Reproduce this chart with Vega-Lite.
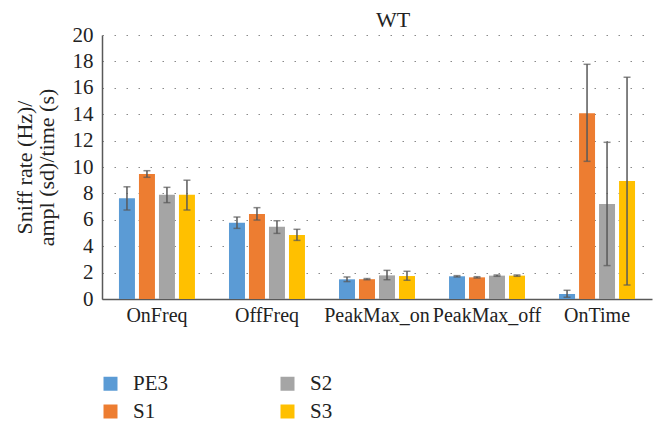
{
  "$schema": "https://vega.github.io/schema/vega-lite/v6.json",
  "width": 550,
  "height": 264,
  "autosize": {"type": "none"},
  "padding": {"left": 102, "top": 35, "right": 14, "bottom": 133},
  "background": "white",
  "title": {"text": "WT", "font": "Liberation Serif", "fontSize": 22, "fontWeight": "normal", "color": "#222", "anchor": "middle", "dx": 16, "offset": -8},
  "config": {
    "view": {"stroke": null},
    "font": "Liberation Serif",
    "axis": {"labelFont": "Liberation Serif", "titleFont": "Liberation Serif", "labelOverlap": false, "labelFontSize": 21, "titleFontSize": 22, "labelColor": "#222", "titleColor": "#222", "titleFontWeight": "normal"},
    "legend": {"labelFont": "Liberation Serif", "labelFontSize": 21, "labelColor": "#222"}
  },
  "data": {
    "values": [
      {"measure": "OnFreq", "group": "PE3", "mean": 7.63, "lo": 6.74, "hi": 8.5},
      {"measure": "OnFreq", "group": "S1", "mean": 9.47, "lo": 9.22, "hi": 9.72},
      {"measure": "OnFreq", "group": "S2", "mean": 7.9, "lo": 7.3, "hi": 8.46},
      {"measure": "OnFreq", "group": "S3", "mean": 7.9, "lo": 6.74, "hi": 9.0},
      {"measure": "OffFreq", "group": "PE3", "mean": 5.78, "lo": 5.35, "hi": 6.21},
      {"measure": "OffFreq", "group": "S1", "mean": 6.44, "lo": 5.98, "hi": 6.92},
      {"measure": "OffFreq", "group": "S2", "mean": 5.48, "lo": 4.97, "hi": 5.93},
      {"measure": "OffFreq", "group": "S3", "mean": 4.85, "lo": 4.44, "hi": 5.28},
      {"measure": "PeakMax_on", "group": "PE3", "mean": 1.49, "lo": 1.32, "hi": 1.67},
      {"measure": "PeakMax_on", "group": "S1", "mean": 1.5, "lo": 1.46, "hi": 1.55},
      {"measure": "PeakMax_on", "group": "S2", "mean": 1.79, "lo": 1.46, "hi": 2.17},
      {"measure": "PeakMax_on", "group": "S3", "mean": 1.74, "lo": 1.42, "hi": 2.1},
      {"measure": "PeakMax_off", "group": "PE3", "mean": 1.72, "lo": 1.67, "hi": 1.77},
      {"measure": "PeakMax_off", "group": "S1", "mean": 1.64, "lo": 1.59, "hi": 1.69},
      {"measure": "PeakMax_off", "group": "S2", "mean": 1.77, "lo": 1.72, "hi": 1.82},
      {"measure": "PeakMax_off", "group": "S3", "mean": 1.77, "lo": 1.72, "hi": 1.82},
      {"measure": "OnTime", "group": "PE3", "mean": 0.38, "lo": 0.13, "hi": 0.66},
      {"measure": "OnTime", "group": "S1", "mean": 14.07, "lo": 10.43, "hi": 17.78},
      {"measure": "OnTime", "group": "S2", "mean": 7.2, "lo": 2.53, "hi": 11.87},
      {"measure": "OnTime", "group": "S3", "mean": 8.94, "lo": 1.06, "hi": 16.8}
    ]
  },
  "resolve": {"axis": {"y": "independent"}},
  "encoding": {
    "x": {
      "field": "measure", "type": "nominal",
      "sort": ["OnFreq", "OffFreq", "PeakMax_on", "PeakMax_off", "OnTime"],
      "scale": {"paddingInner": 0.273, "paddingOuter": 0.136},
      "axis": {
        "title": null, "labelAngle": 0, "labelPadding": 6, "ticks": false, "labelFontSize": 20,
        "domainColor": "#595959", "domainWidth": 1.5, "grid": false
      }
    },
    "xOffset": {
      "field": "group", "type": "nominal",
      "sort": ["PE3", "S1", "S2", "S3"],
      "scale": {"paddingInner": 0.2, "paddingOuter": 0.1}
    }
  },
  "layer": [
    {
      "mark": {"type": "bar"},
      "encoding": {
        "y": {
          "field": "mean", "type": "quantitative",
          "scale": {"domain": [0, 20], "nice": false},
          "axis": {
            "values": [0, 2, 4, 6, 8, 10, 12, 14, 16, 18, 20],
            "title": ["Sniff rate (Hz)/", "ampl (sd)/time (s)"],
            "titlePadding": 14, "titleLineHeight": 22,
            "labelPadding": 9, "ticks": false, "labelOverlap": false,
            "domainColor": "#595959", "domainWidth": 1.5,
            "grid": true, "gridColor": "#8a8a8a", "gridDash": [1.5, 10.5], "gridWidth": 1.2
          }
        },
        "color": {
          "field": "group", "type": "nominal",
          "scale": {"domain": ["PE3", "S2", "S1", "S3"], "range": ["#5B9BD5", "#A5A5A5", "#ED7D31", "#FFC000"]},
          "legend": {
            "orient": "none", "legendX": -2, "legendY": 338, "direction": "horizontal", "columns": 2,
            "title": null, "symbolType": "square", "symbolSize": 196, "symbolStrokeWidth": 0,
            "labelOffset": 12, "columnPadding": 108, "rowPadding": 6
          }
        }
      }
    },
    {
      "mark": {"type": "rule", "color": "#595959", "strokeWidth": 1.5},
      "encoding": {
        "y": {"field": "lo", "type": "quantitative", "axis": null},
        "y2": {"field": "hi"}
      }
    },
    {
      "mark": {"type": "tick", "color": "#595959", "thickness": 1.5, "size": 7, "orient": "horizontal"},
      "encoding": {"y": {"field": "lo", "type": "quantitative", "axis": null}}
    },
    {
      "mark": {"type": "tick", "color": "#595959", "thickness": 1.5, "size": 7, "orient": "horizontal"},
      "encoding": {"y": {"field": "hi", "type": "quantitative", "axis": null}}
    }
  ]
}
